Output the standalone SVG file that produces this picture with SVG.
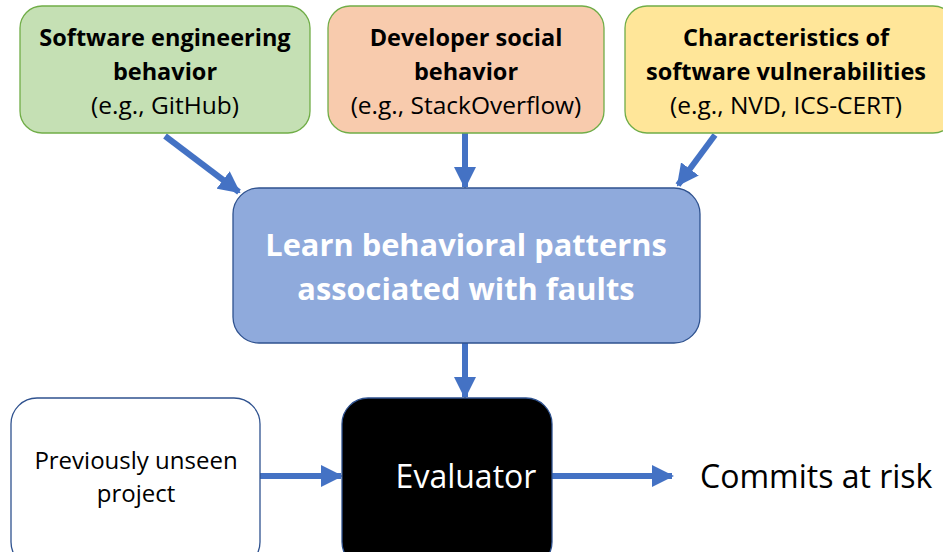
<svg xmlns="http://www.w3.org/2000/svg" width="943" height="552" viewBox="0 0 943 552">
<style>
.src{stroke:#70AD47;stroke-width:1.3}
.b{font-family:"Open Sans","Liberation Sans",sans-serif;font-weight:bold;font-size:23.5px;fill:#000;text-anchor:middle}
.n{font-family:"Open Sans","Liberation Sans",sans-serif;font-size:24.5px;fill:#000;text-anchor:middle}
.conn{stroke:#4472C4;stroke-width:6;fill:none;marker-end:url(#ah)}
</style>
<defs>
<marker id="ah" markerUnits="userSpaceOnUse" markerWidth="22" markerHeight="22" viewBox="0 0 22 22" refX="20" refY="11" orient="auto">
<path d="M0,0 L22,11 L0,22 Z" fill="#4472C4"/>
</marker>
</defs>
<rect width="943" height="552" fill="#fff"/>
<g id="connectors">
<line class="conn" x1="165" y1="136" x2="239" y2="192"/>
<line class="conn" x1="465" y1="133" x2="465" y2="187"/>
<line class="conn" x1="715" y1="135" x2="678" y2="185"/>
<line class="conn" x1="465" y1="343" x2="465" y2="397"/>
<line class="conn" x1="260" y1="476" x2="341" y2="476"/>
<line class="conn" x1="552" y1="476" x2="672" y2="476"/>
</g>
<g id="se-behavior">
<rect class="src" x="20" y="6" width="290" height="127" rx="22" fill="#C5E0B4"/>
<text class="b" x="165" y="46">Software engineering</text>
<text class="b" x="165" y="80">behavior</text>
<text class="n" x="165" y="114">(e.g., GitHub)</text>
</g>
<g id="dev-social">
<rect class="src" x="328" y="6" width="276" height="127" rx="22" fill="#F8CBAD"/>
<text class="b" x="466" y="46">Developer social</text>
<text class="b" x="466" y="80">behavior</text>
<text class="n" x="466" y="114">(e.g., StackOverflow)</text>
</g>
<g id="vuln">
<rect class="src" x="625" y="6" width="330" height="127" rx="22" fill="#FFE699"/>
<text class="b" x="786" y="46">Characteristics of</text>
<text class="b" x="786" y="80">software vulnerabilities</text>
<text class="n" x="786" y="114">(e.g., NVD, ICS-CERT)</text>
</g>
<g id="learn">
<rect x="233" y="188" width="467" height="155" rx="26" fill="#8FAADC" stroke="#2F528F" stroke-width="1.3"/>
<text x="466" y="256" font-family="'Open Sans','Liberation Sans',sans-serif" font-weight="bold" font-size="30.8" fill="#fff" text-anchor="middle">Learn behavioral patterns</text>
<text x="466" y="300" font-family="'Open Sans','Liberation Sans',sans-serif" font-weight="bold" font-size="30.8" fill="#fff" text-anchor="middle">associated with faults</text>
</g>
<g id="unseen">
<rect x="11" y="398" width="249" height="170" rx="26" fill="#fff" stroke="#2F528F" stroke-width="1.3"/>
<text x="136" y="469" font-family="'Open Sans','Liberation Sans',sans-serif" font-size="24" fill="#000" text-anchor="middle">Previously unseen</text>
<text x="136" y="502" font-family="'Open Sans','Liberation Sans',sans-serif" font-size="24" fill="#000" text-anchor="middle">project</text>
</g>
<g id="evaluator">
<rect x="342" y="398" width="210" height="170" rx="26" fill="#000" stroke="#2F528F" stroke-width="1.3"/>
<text x="466" y="488" font-family="'Open Sans','Liberation Sans',sans-serif" font-size="32" fill="#fff" text-anchor="middle">Evaluator</text>
</g>
<g id="commits">
<text x="700" y="488" font-family="'Open Sans','Liberation Sans',sans-serif" font-size="32" fill="#000">Commits at risk</text>
</g>
</svg>
